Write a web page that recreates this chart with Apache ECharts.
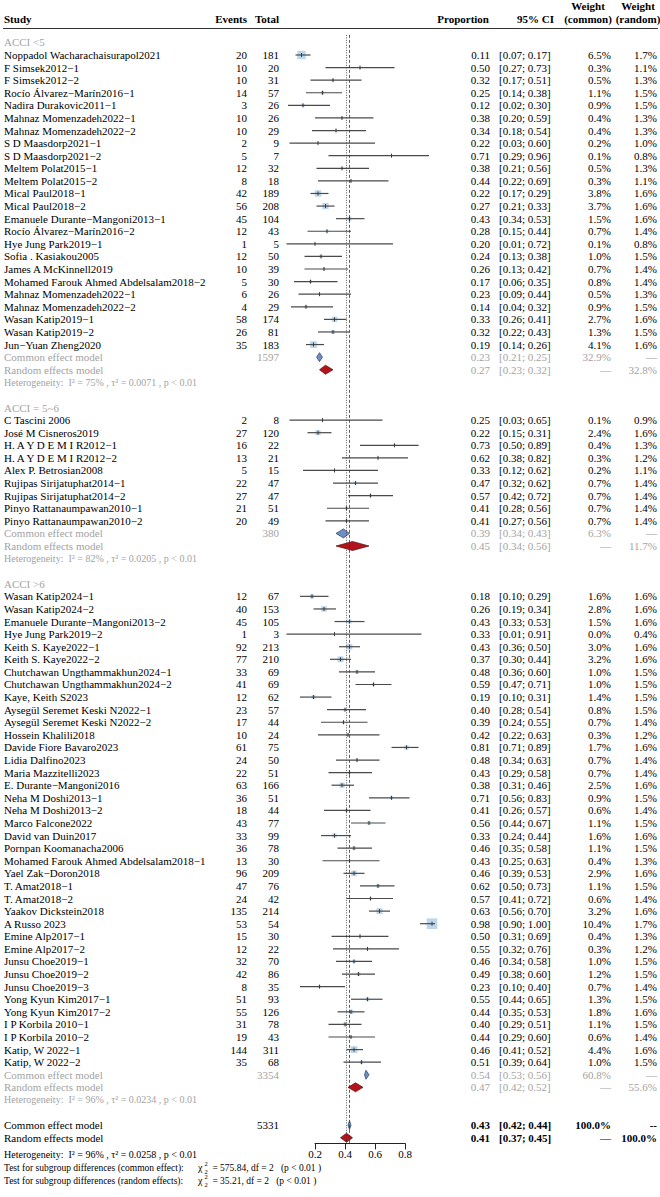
<!DOCTYPE html>
<html>
<head>
<meta charset="utf-8">
<script src="https://cdn.jsdelivr.net/npm/echarts@6.0.0/dist/echarts.min.js"></script>
<style>
  html, body { margin: 0; padding: 0; background: #fff; }
  #chart { width: 660px; height: 1197px; }
</style>
</head>
<body>
<div id="chart"></div>
<script>
// ---- ACCI <5 ----
const names1 = ['Noppadol Wacharachaisurapol2021', 'F Simsek2012−1', 'F Simsek2012−2', 'Rocío Álvarez−Marín2016−1',
  'Nadira Durakovic2011−1', 'Mahnaz Momenzadeh2022−1', 'Mahnaz Momenzadeh2022−2', 'S D Maasdorp2021−1',
  'S D Maasdorp2021−2', 'Meltem Polat2015−1', 'Meltem Polat2015−2', 'Mical Paul2018−1', 'Mical Paul2018−2',
  'Emanuele Durante−Mangoni2013−1', 'Rocío Álvarez−Marín2016−2', 'Hye Jung Park2019−1', 'Sofia . Kasiakou2005',
  'James A McKinnell2019', 'Mohamed Farouk Ahmed Abdelsalam2018−2', 'Mahnaz Momenzadeh2022−1',
  'Mahnaz Momenzadeh2022−2', 'Wasan Katip2019−1', 'Wasan Katip2019−2', 'Jun−Yuan Zheng2020'];
const events1 = [20, 10, 10, 14, 3, 10, 10, 2, 5, 12, 8, 42, 56, 45, 12, 1, 12, 10, 5, 6, 4, 58, 26, 35];
const totals1 = [181, 20, 31, 57, 26, 26, 29, 9, 7, 32, 18, 189, 208, 104, 43, 5, 50, 39, 30, 26, 29, 174, 81, 183];
const prop1 = [0.11, 0.50, 0.32, 0.25, 0.12, 0.38, 0.34, 0.22, 0.71, 0.38, 0.44, 0.22, 0.27, 0.43, 0.28, 0.20, 0.24, 0.26, 0.17, 0.23, 0.14, 0.33, 0.32, 0.19];
const lower1 = [0.07, 0.27, 0.17, 0.14, 0.02, 0.20, 0.18, 0.03, 0.29, 0.21, 0.22, 0.17, 0.21, 0.34, 0.15, 0.01, 0.13, 0.13, 0.06, 0.09, 0.04, 0.26, 0.22, 0.14];
const upper1 = [0.17, 0.73, 0.51, 0.38, 0.30, 0.59, 0.54, 0.60, 0.96, 0.56, 0.69, 0.29, 0.33, 0.53, 0.44, 0.72, 0.38, 0.42, 0.35, 0.44, 0.32, 0.41, 0.43, 0.26];
const wCommon1 = [6.5, 0.3, 0.5, 1.1, 0.9, 0.4, 0.4, 0.2, 0.1, 0.5, 0.3, 3.8, 3.7, 1.5, 0.7, 0.1, 1.0, 0.7, 0.8, 0.5, 0.9, 2.7, 1.3, 4.1];
const wRandom1 = [1.7, 1.1, 1.3, 1.5, 1.5, 1.3, 1.3, 1.0, 0.8, 1.3, 1.1, 1.6, 1.6, 1.6, 1.4, 0.8, 1.5, 1.4, 1.4, 1.3, 1.5, 1.6, 1.5, 1.6];

// ---- ACCI = 5~6 ----
const names2 = ['C Tascini 2006', 'José M Cisneros2019', 'H. A Y D E M I R2012−1', 'H. A Y D E M I R2012−2',
  'Alex P. Betrosian2008', 'Rujipas Sirijatuphat2014−1', 'Rujipas Sirijatuphat2014−2',
  'Pinyo Rattanaumpawan2010−1', 'Pinyo Rattanaumpawan2010−2'];
const events2 = [2, 27, 16, 13, 5, 22, 27, 21, 20];
const totals2 = [8, 120, 22, 21, 15, 47, 47, 51, 49];
const prop2 = [0.25, 0.22, 0.73, 0.62, 0.33, 0.47, 0.57, 0.41, 0.41];
const lower2 = [0.03, 0.15, 0.50, 0.38, 0.12, 0.32, 0.42, 0.28, 0.27];
const upper2 = [0.65, 0.31, 0.89, 0.82, 0.62, 0.62, 0.72, 0.56, 0.56];
const wCommon2 = [0.1, 2.4, 0.4, 0.3, 0.2, 0.7, 0.7, 0.7, 0.7];
const wRandom2 = [0.9, 1.6, 1.3, 1.2, 1.1, 1.4, 1.4, 1.4, 1.4];

// ---- ACCI >6 ----
const names3 = ['Wasan Katip2024−1', 'Wasan Katip2024−2', 'Emanuele Durante−Mangoni2013−2', 'Hye Jung Park2019−2',
  'Keith S. Kaye2022−1', 'Keith S. Kaye2022−2', 'Chutchawan Ungthammakhun2024−1', 'Chutchawan Ungthammakhun2024−2',
  'Kaye, Keith S2023', 'Aysegül Seremet Keski N2022−1', 'Aysegül Seremet Keski N2022−2', 'Hossein Khalili2018',
  'Davide Fiore Bavaro2023', 'Lidia Dalfino2023', 'Maria Mazzitelli2023', 'E. Durante−Mangoni2016',
  'Neha M Doshi2013−1', 'Neha M Doshi2013−2', 'Marco Falcone2022', 'David van Duin2017', 'Pornpan Koomanacha2006',
  'Mohamed Farouk Ahmed Abdelsalam2018−1', 'Yael Zak−Doron2018', 'T. Amat2018−1', 'T. Amat2018−2',
  'Yaakov Dickstein2018', 'A Russo 2023', 'Emine Alp2017−1', 'Emine Alp2017−2', 'Junsu Choe2019−1',
  'Junsu Choe2019−2', 'Junsu Choe2019−3', 'Yong Kyun Kim2017−1', 'Yong Kyun Kim2017−2', 'I P Korbila 2010−1',
  'I P Korbila 2010−2', 'Katip, W 2022−1', 'Katip, W 2022−2'];
const events3 = [12, 40, 45, 1, 92, 77, 33, 41, 12, 23, 17, 10, 61, 24, 22, 63, 36, 18, 43, 33, 36, 13, 96, 47, 24, 135, 53, 15, 12, 32, 42, 8, 51, 55, 31, 19, 144, 35];
const totals3 = [67, 153, 105, 3, 213, 210, 69, 69, 62, 57, 44, 24, 75, 50, 51, 166, 51, 44, 77, 99, 78, 30, 209, 76, 42, 214, 54, 30, 22, 70, 86, 35, 93, 126, 78, 43, 311, 68];
const prop3 = [0.18, 0.26, 0.43, 0.33, 0.43, 0.37, 0.48, 0.59, 0.19, 0.40, 0.39, 0.42, 0.81, 0.48, 0.43, 0.38, 0.71, 0.41, 0.56, 0.33, 0.46, 0.43, 0.46, 0.62, 0.57, 0.63, 0.98, 0.50, 0.55, 0.46, 0.49, 0.23, 0.55, 0.44, 0.40, 0.44, 0.46, 0.51];
const lower3 = [0.10, 0.19, 0.33, 0.01, 0.36, 0.30, 0.36, 0.47, 0.10, 0.28, 0.24, 0.22, 0.71, 0.34, 0.29, 0.31, 0.56, 0.26, 0.44, 0.24, 0.35, 0.25, 0.39, 0.50, 0.41, 0.56, 0.90, 0.31, 0.32, 0.34, 0.38, 0.10, 0.44, 0.35, 0.29, 0.29, 0.41, 0.39];
const upper3 = [0.29, 0.34, 0.53, 0.91, 0.50, 0.44, 0.60, 0.71, 0.31, 0.54, 0.55, 0.63, 0.89, 0.63, 0.58, 0.46, 0.83, 0.57, 0.67, 0.44, 0.58, 0.63, 0.53, 0.73, 0.72, 0.70, 1.00, 0.69, 0.76, 0.58, 0.60, 0.40, 0.65, 0.53, 0.51, 0.60, 0.52, 0.64];
const wCommon3 = [1.6, 2.8, 1.5, 0.0, 3.0, 3.2, 1.0, 1.0, 1.4, 0.8, 0.7, 0.3, 1.7, 0.7, 0.7, 2.5, 0.9, 0.6, 1.1, 1.6, 1.1, 0.4, 2.9, 1.1, 0.6, 3.2, 10.4, 0.4, 0.3, 1.0, 1.2, 0.7, 1.3, 1.8, 1.1, 0.6, 4.4, 1.0];
const wRandom3 = [1.6, 1.6, 1.6, 0.4, 1.6, 1.6, 1.5, 1.5, 1.5, 1.5, 1.4, 1.2, 1.6, 1.4, 1.4, 1.6, 1.5, 1.4, 1.5, 1.6, 1.5, 1.3, 1.6, 1.5, 1.4, 1.6, 1.7, 1.3, 1.2, 1.5, 1.5, 1.4, 1.5, 1.6, 1.5, 1.4, 1.6, 1.5];

// ---- subgroup summaries ----
const groupLabels = ['ACCI <5', 'ACCI = 5~6', 'ACCI >6'];
const groupTotals = [1597, 380, 3354];
const commonEst = [0.23, 0.39, 0.54];
const commonLow = [0.21, 0.34, 0.53];
const commonHigh = [0.25, 0.43, 0.56];
const commonWeight = [32.9, 6.3, 60.8];
const randomEst = [0.27, 0.45, 0.47];
const randomLow = [0.23, 0.34, 0.42];
const randomHigh = [0.32, 0.56, 0.52];
const randomWeight = [32.8, 11.7, 55.6];
const hetI2 = [75, 82, 96];
const hetTau2 = ['0.0071', '0.0205', '0.0234'];

// ---- overall ----
const overallTotal = 5331;
const overallCommon = [0.43, 0.42, 0.44];
const overallRandom = [0.41, 0.37, 0.45];
const overallHet = { i2: 96, tau2: '0.0258' };
const subgroupTests = [['common effect', '575.84'], ['random effects', '35.21']];
const xTicks = [0.2, 0.4, 0.6, 0.8];

const FONT = 'Liberation Serif';
const GRAY = '#a3a3a3';
const COL = { study: 4, events: 247, total: 279, prop: 490, ci: 499, wc: 611, wr: 657 };

const groups = [
  { names: names1, events: events1, totals: totals1, prop: prop1, lower: lower1, upper: upper1, wc: wCommon1, wr: wRandom1 },
  { names: names2, events: events2, totals: totals2, prop: prop2, lower: lower2, upper: upper2, wc: wCommon2, wr: wRandom2 },
  { names: names3, events: events3, totals: totals3, prop: prop3, lower: lower3, upper: upper3, wc: wCommon3, wr: wRandom3 }
];

const ci = (lo, hi) => '[' + lo.toFixed(2) + '; ' + hi.toFixed(2) + ']';
const pct = (w) => w.toFixed(1) + '%';

// build rows (row index = y value on the hidden axis)
const textRows = [];
const studyData = [];
const diamondData = [];
let r = 0;
groups.forEach((g, gi) => {
  textRows.push({ row: r++, cells: [[COL.study, groupLabels[gi], 'left', GRAY]] });
  g.names.forEach((nm, i) => {
    textRows.push({ row: r, cells: [
      [COL.study, nm, 'left'], [COL.events, String(g.events[i]), 'right'], [COL.total, String(g.totals[i]), 'right'],
      [COL.prop, g.prop[i].toFixed(2), 'right'], [COL.ci, ci(g.lower[i], g.upper[i]), 'left'],
      [COL.wc, pct(g.wc[i]), 'right'], [COL.wr, pct(g.wr[i]), 'right']
    ] });
    studyData.push([r, g.prop[i], g.lower[i], g.upper[i], g.wc[i]]);
    r++;
  });
  textRows.push({ row: r, cells: [
    [COL.study, 'Common effect model', 'left', GRAY], [COL.total, String(groupTotals[gi]), 'right', GRAY],
    [COL.prop, commonEst[gi].toFixed(2), 'right', GRAY], [COL.ci, ci(commonLow[gi], commonHigh[gi]), 'left', GRAY],
    [COL.wc, pct(commonWeight[gi]), 'right', GRAY], [COL.wr, '—', 'right', GRAY]
  ] });
  diamondData.push([r++, commonEst[gi], commonLow[gi], commonHigh[gi], 0]);
  textRows.push({ row: r, cells: [
    [COL.study, 'Random effects model', 'left', GRAY],
    [COL.prop, randomEst[gi].toFixed(2), 'right', GRAY], [COL.ci, ci(randomLow[gi], randomHigh[gi]), 'left', GRAY],
    [COL.wc, '—', 'right', GRAY], [COL.wr, pct(randomWeight[gi]), 'right', GRAY]
  ] });
  diamondData.push([r++, randomEst[gi], randomLow[gi], randomHigh[gi], 1]);
  textRows.push({ row: r++, cells: [[COL.study,
    'Heterogeneity:  I² = ' + hetI2[gi] + '% , τ² = ' + hetTau2[gi] + ' , p < 0.01', 'left', GRAY, 10]] });
  r++; // blank line
});
textRows.push({ row: r, cells: [
  [COL.study, 'Common effect model', 'left'], [COL.total, String(overallTotal), 'right'],
  [COL.prop, overallCommon[0].toFixed(2), 'right', '#000', 11, true], [COL.ci, ci(overallCommon[1], overallCommon[2]), 'left', '#000', 11, true],
  [COL.wc, '100.0%', 'right', '#000', 11, true], [COL.wr, '--', 'right', '#000', 11, true]
] });
diamondData.push([r++, overallCommon[0], overallCommon[1], overallCommon[2], 0]);
textRows.push({ row: r, cells: [
  [COL.study, 'Random effects model', 'left'],
  [COL.prop, overallRandom[0].toFixed(2), 'right', '#000', 11, true], [COL.ci, ci(overallRandom[1], overallRandom[2]), 'left', '#000', 11, true],
  [COL.wc, '—', 'right', '#000', 11, true], [COL.wr, '100.0%', 'right', '#000', 11, true]
] });
diamondData.push([r++, overallRandom[0], overallRandom[1], overallRandom[2], 1]);

// pixel layout of the row axis
const ROW0 = 42.4, RH = 12.59, YMIN = -0.6, YMAX = 87.45;
const gridTop = ROW0 + YMIN * RH;
const gridHeight = (YMAX - YMIN) * RH;
const axisY = gridTop + gridHeight;

function txt(x, y, text, align, color, size, bold) {
  return {
    type: 'text', x: x, y: y, silent: true,
    style: { text: text, fill: color || '#000', fontSize: size || 11, fontFamily: FONT,
      fontWeight: bold ? 'bold' : 'normal', align: align || 'left', verticalAlign: 'middle' }
  };
}

const chart = echarts.init(document.getElementById('chart'), null, { renderer: 'svg' });

const headerY = 19, footY = axisY + 11.5;
const graphics = [
  txt(COL.study, headerY, 'Study', 'left', '#000', 11, true),
  txt(COL.events, headerY, 'Events', 'right', '#000', 11, true),
  txt(COL.total, headerY, 'Total', 'right', '#000', 11, true),
  txt(COL.prop - 1, headerY, 'Proportion', 'right', '#000', 11, true),
  txt(554, headerY, '95% CI', 'right', '#000', 11, true),
  txt(588, 6, 'Weight', 'center', '#000', 11, true),
  txt(588, headerY, '(common)', 'center', '#000', 11, true),
  txt(638, 6, 'Weight', 'center', '#000', 11, true),
  txt(638, headerY, '(random)', 'center', '#000', 11, true),
  { type: 'line', shape: { x1: 3, y1: 28.5, x2: 658, y2: 28.5 }, style: { stroke: '#333', lineWidth: 1 } },
  txt(COL.study, footY, 'Heterogeneity:  I² = ' + overallHet.i2 + '% , τ² = ' + overallHet.tau2 + ' , p < 0.01', 'left', '#000', 10)
];
subgroupTests.forEach((t, i) => {
  const y = footY + 13 * (i + 1);
  graphics.push(txt(COL.study, y, 'Test for subgroup differences (' + t[0] + '):', 'left', '#000', 9.5));
  graphics.push(txt(198, y, 'χ', 'left', '#000', 10));
  graphics.push(txt(204.5, y - 4, '2', 'left', '#000', 6.5));
  graphics.push(txt(204.5, y + 3.5, '2', 'left', '#000', 6.5));
  graphics.push(txt(210, y, ' = ' + t[1] + ', df = 2   (p < 0.01 )', 'left', '#000', 9.5));
});

chart.setOption({
  animation: false,
  graphic: graphics,
  grid: [
    { left: 285, width: 150, top: gridTop, height: gridHeight, containLabel: false, outerBoundsMode: 'none' },
    { left: 315, width: 90, top: axisY - 40, height: 40, containLabel: false, outerBoundsMode: 'none' }
  ],
  xAxis: [
    { gridIndex: 0, type: 'value', min: 0, max: 1, show: false },
    {
      gridIndex: 1, type: 'value', min: xTicks[0], max: xTicks[xTicks.length - 1], interval: 0.2,
      axisLine: { show: true, lineStyle: { color: '#222', width: 1 } },
      axisTick: { show: true, length: 6, lineStyle: { color: '#222' } },
      splitLine: { show: false },
      axisLabel: { margin: 5, color: '#000', fontFamily: FONT, fontSize: 11, formatter: (v) => v.toFixed(1) }
    }
  ],
  yAxis: [
    { gridIndex: 0, type: 'value', min: YMIN, max: YMAX, inverse: true, show: false },
    { gridIndex: 1, type: 'value', show: false }
  ],
  series: [
    {
      type: 'custom', name: 'text', clip: false, silent: true,
      data: textRows.map((t, i) => [t.row, i]),
      renderItem: (params, api) => {
        const row = textRows[api.value(1)];
        const y = api.coord([0, api.value(0)])[1];
        return { type: 'group', children: row.cells.map((c) => txt(c[0], y, c[1], c[2], c[3], c[4], c[5])) };
      }
    },
    {
      type: 'custom', name: 'studies', clip: false, silent: true,
      data: studyData,
      renderItem: (params, api) => {
        const row = api.value(0);
        const mid = api.coord([api.value(1), row]);
        const lo = api.coord([api.value(2), row]);
        const hi = api.coord([api.value(3), row]);
        const side = 3.3 * Math.sqrt(api.value(4));
        return {
          type: 'group', children: [
            { type: 'rect', shape: { x: mid[0] - side / 2, y: mid[1] - side / 2, width: side, height: side },
              style: { fill: '#bcd7ec' } },
            { type: 'line', shape: { x1: lo[0], y1: lo[1], x2: hi[0], y2: hi[1] },
              style: { stroke: '#4a4a4a', lineWidth: 1.2 } },
            { type: 'line', shape: { x1: mid[0], y1: mid[1] - 2, x2: mid[0], y2: mid[1] + 2 },
              style: { stroke: '#3a3a3a', lineWidth: 1 } }
          ]
        };
      }
    },
    {
      type: 'custom', name: 'summaries', clip: false, silent: true,
      data: diamondData,
      renderItem: (params, api) => {
        const row = api.value(0);
        const mid = api.coord([api.value(1), row]);
        const lo = api.coord([api.value(2), row]);
        const hi = api.coord([api.value(3), row]);
        const h = 4.5;
        const isRandom = api.value(4) === 1;
        return {
          type: 'polygon',
          shape: { points: [[lo[0], lo[1]], [mid[0], mid[1] - h], [hi[0], hi[1]], [mid[0], mid[1] + h]] },
          style: isRandom ? { fill: '#b3141c', stroke: '#5a0a0a', lineWidth: 0.7 }
                          : { fill: '#6b8fc6', stroke: '#2c3e5c', lineWidth: 0.7 }
        };
      },
      markLine: {
        silent: true, symbol: 'none', label: { show: false },
        data: [
          { xAxis: overallCommon[0], lineStyle: { type: [3, 2], color: '#333', width: 0.8 } },
          { xAxis: overallRandom[0], lineStyle: { type: [1, 1.5], color: '#333', width: 0.8 } }
        ]
      }
    },
    { type: 'line', xAxisIndex: 1, yAxisIndex: 1, data: [] }
  ]
});
</script>
</body>
</html>
